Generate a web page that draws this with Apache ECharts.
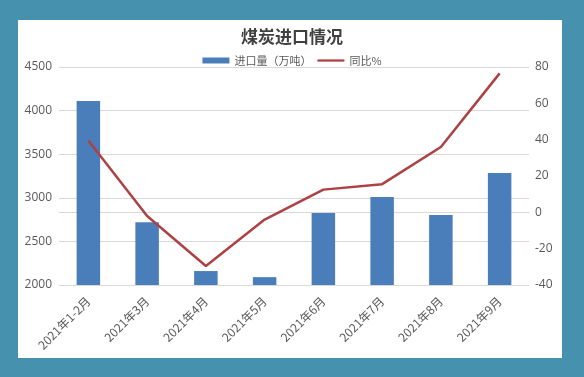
<!DOCTYPE html>
<html>
<head>
<meta charset="utf-8">
<script src="https://cdn.jsdelivr.net/npm/echarts@6/dist/echarts.min.js"></script>
<style>
    html, body { margin: 0; padding: 0; }
    #main { width: 584px; height: 377px; }
</style>
</head>
<body>
<div id="main"></div>
<script>
// 月份
var monthList = ['2021年1-2月', '2021年3月', '2021年4月', '2021年5月', '2021年6月', '2021年7月', '2021年8月', '2021年9月'];
// 进口量（万吨）
var importList = [4110, 2720, 2160, 2090, 2825, 3008, 2802, 3283];
// 同比%
var yoyList = [39.5, -2, -29.5, -4, 12.5, 15.5, 36, 76.5];
var lengdList = ['进口量（万吨）', '同比%'];

var myCharts = echarts.init(document.getElementById('main'));
var fontCn = '"Noto Sans CJK SC", "Microsoft YaHei", sans-serif';

var option = {
    backgroundColor: '#4691ae',
    animation: false,
    graphic: [{
        type: 'rect',
        z: -1,
        shape: { x: 18, y: 20, width: 544, height: 338 },
        style: { fill: '#ffffff' }
    }],
    title: {
        text: '煤炭进口情况',
        left: 'center',
        top: 23,
        textStyle: {
            fontFamily: fontCn,
            fontSize: 17,
            fontWeight: 'bold',
            color: '#404040'
        }
    },
    legend: {
        data: [{
            name: lengdList[0],
            icon: 'rect'
        }, {
            name: lengdList[1],
            icon: 'path://M0,0 L30,0 L30,2.5 L0,2.5 Z'
        }],
        top: 50,
        left: 'center',
        itemWidth: 27,
        itemHeight: 6,
        itemGap: 6,
        textStyle: {
            fontFamily: fontCn,
            fontSize: 11,
            color: '#595959'
        }
    },
    grid: {
        top: 67,
        left: 59,
        right: 55,
        bottom: 92
    },
    xAxis: [{
        type: 'category',
        data: monthList,
        axisTick: { show: false },
        axisLine: { lineStyle: { color: '#d9d9d9' } },
        axisLabel: {
            interval: 0,
            rotate: 45,
            margin: 14,
            fontFamily: fontCn,
            fontSize: 12,
            color: '#595959'
        }
    }],
    yAxis: [{
        type: 'value',
        min: 2000,
        max: 4500,
        interval: 500,
        axisLine: { show: false },
        axisTick: { show: false },
        axisLabel: {
            margin: 7,
            fontSize: 12,
            color: '#595959',
            fontFamily: 'Open Sans, sans-serif',
            formatter: function (v) { return String(v); }
        },
        splitLine: { lineStyle: { color: '#d9d9d9' } }
    }, {
        type: 'value',
        min: -40,
        max: 80,
        interval: 20,
        axisLine: { show: false },
        axisTick: { show: false },
        axisLabel: { margin: 6, fontSize: 12, color: '#595959', fontFamily: 'Open Sans, sans-serif' },
        splitLine: { show: false }
    }],
    series: [{
        name: lengdList[0],
        type: 'bar',
        barWidth: '40%',
        itemStyle: { color: '#4a7ebb' },
        data: importList
    }, {
        name: lengdList[1],
        type: 'line',
        yAxisIndex: 1,
        symbol: 'none',
        itemStyle: { color: '#ad4143' },
        lineStyle: { color: '#ad4143', width: 2.5 },
        data: yoyList
    }]
};
myCharts.setOption(option);
</script>
</body>
</html>
